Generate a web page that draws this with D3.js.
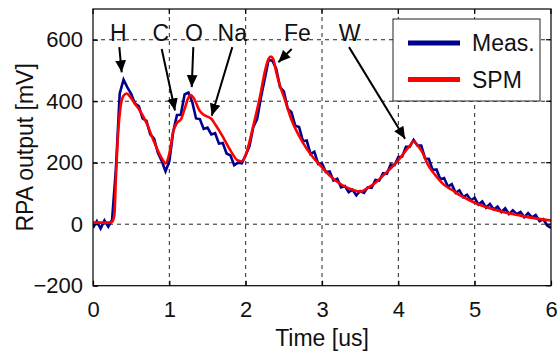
<!DOCTYPE html>
<html><head><meta charset="utf-8">
<script src="https://cdn.jsdelivr.net/npm/d3@7"></script>
<style>
body{margin:0;background:#fff;}
svg{display:block;font-family:"Liberation Sans",Arial,sans-serif;}
</style></head>
<body><svg id="c" width="558" height="356"></svg>
<script>
// ---- data ----
const xTicks = [0,1,2,3,4,5,6];
const yTicks = [-200,0,200,400,600];
const yTickLabels = ["\u2212200","0","200","400","600"];
const xLabel = "Time [us]";
const yLabel = "RPA output [mV]";
const seriesNames = ["Meas.","SPM"];

// Measured (blue), sampled every 0.05 us from 0 to 6
const measTime = d3.range(0, 121).map(i => +(i*0.05).toFixed(2));
const measValues = [
 -12,10,-14,12,-8,14,180,425,470,445,
 424,392,384,344,336,292,278,232,206,172,
 204,300,355,356,422,428,398,344,342,310,
 314,292,296,262,264,230,224,192,200,198,
 224,254,316,342,412,472,534,532,506,446,
 432,376,364,320,316,270,272,228,236,196,
 198,170,172,142,148,120,124,104,112,94,
 108,102,120,118,144,142,166,164,194,192,
 218,220,252,252,274,256,256,214,212,176,
 178,146,150,122,130,102,110,88,96,78,
 86,64,74,54,66,48,57,40,52,33,
 45,33,40,23,36,22,30,10,16,-4,
 -12
];

// Model (red)
const spmTime =   [0,0.1,0.2,0.25,0.28,0.3,0.33,0.36,0.4,0.44,0.5,0.55,0.6,0.7,0.8,0.9,0.95,1.0,1.05,1.1,1.15,1.2,1.25,1.28,1.32,1.4,1.45,1.5,1.55,1.6,1.7,1.8,1.9,1.95,2.0,2.1,2.2,2.25,2.3,2.33,2.36,2.4,2.45,2.5,2.6,2.7,2.8,2.9,3.0,3.1,3.2,3.3,3.4,3.5,3.6,3.7,3.8,3.9,4.0,4.1,4.16,4.2,4.24,4.3,4.4,4.5,4.6,4.7,4.8,4.9,5.0,5.2,5.4,5.6,5.8,6.0];
const spmValues = [5,5,5,8,30,150,300,380,418,425,410,391,375,330,268,215,198,230,300,330,340,375,412,420,410,368,356,350,343,325,285,240,207,205,225,320,430,495,538,545,538,495,450,415,340,287,245,212,185,158,138,122,112,106,118,135,158,182,208,240,258,270,260,240,188,155,128,112,95,82,70,52,38,28,19,12];

// annotations (label, text x, arrow start [x,y], arrow tip [x,y]) in data units
const annLabels = ["H","C","O","Na","Fe","W"];
const annTextX  = [0.33,0.887,1.323,1.825,2.677,3.363];
const annFrom   = [[0.345,576],[0.9,570],[1.314,576],[1.825,576],[2.603,570],[3.354,576]];
const annTip    = [[0.376,494],[1.074,370],[1.293,446],[1.555,353],[2.428,527],[4.088,278]];
const annTextY = 597;

// ---- drawing ----
const svg = d3.select("#c");
const L=93,R=551,T=9,B=285.7;
const x = d3.scaleLinear().domain([0,6]).range([L,R]);
const y = d3.scaleLinear().domain([-200,700]).range([B,T]);
const FS = 22;

// grid
const g = svg.append("g");
g.selectAll(".vg").data(xTicks.filter(d=>d>0&&d<6)).enter().append("line")
 .attr("x1",d=>x(d)).attr("x2",d=>x(d)).attr("y1",T).attr("y2",B)
 .attr("stroke","#222").attr("stroke-width",1).attr("stroke-dasharray","4,4");
g.selectAll(".hg").data(yTicks.filter(d=>d>-200)).enter().append("line")
 .attr("x1",L).attr("x2",R).attr("y1",d=>y(d)).attr("y2",d=>y(d))
 .attr("stroke","#222").attr("stroke-width",1).attr("stroke-dasharray","4,4");

// lines
const clip = svg.append("clipPath").attr("id","pc").append("rect")
 .attr("x",L).attr("y",T).attr("width",R-L).attr("height",B-T);
const meas = measTime.map((t,i)=>[t,measValues[i]]);
const spm = spmTime.map((t,i)=>[t,spmValues[i]]);
svg.append("path").datum(meas).attr("clip-path","url(#pc)")
 .attr("d",d3.line().x(d=>x(d[0])).y(d=>y(d[1])).curve(d3.curveLinear))
 .attr("fill","none").attr("stroke","#00008f").attr("stroke-width",2.6).attr("stroke-linejoin","miter");
svg.append("path").datum(spm).attr("clip-path","url(#pc)")
 .attr("d",d3.line().x(d=>x(d[0])).y(d=>y(d[1])).curve(d3.curveMonotoneX))
 .attr("fill","none").attr("stroke","#ff0000").attr("stroke-width",2.6).attr("stroke-linejoin","round");

// axes box
svg.append("rect").attr("x",L).attr("y",T).attr("width",R-L).attr("height",B-T)
 .attr("fill","none").attr("stroke","#000").attr("stroke-width",1.2);
const xb = d3.axisBottom(x).tickValues(xTicks).tickSize(-5).tickPadding(12).tickFormat(d3.format("d"));
const gx = svg.append("g").attr("transform",`translate(0,${B})`).call(xb);
const yl = d3.axisLeft(y).tickValues(yTicks).tickSize(-5).tickPadding(10).tickFormat((d,i)=>yTickLabels[i]);
const gy = svg.append("g").attr("transform",`translate(${L},0)`).call(yl);
[gx,gy].forEach(a=>{a.select(".domain").remove();
 a.selectAll("text").attr("font-size",FS).attr("font-family","Liberation Sans, Arial, sans-serif").attr("fill","#111");
 a.selectAll("line").attr("stroke","#000").attr("stroke-width",1.2);});
gx.selectAll("text").attr("dy","0.9em");
// mirror ticks
svg.append("g").selectAll("line").data(yTicks).enter().append("line")
 .attr("x1",R).attr("x2",R-5).attr("y1",d=>y(d)).attr("y2",d=>y(d)).attr("stroke","#000").attr("stroke-width",1.2);
svg.append("g").selectAll("line").data(xTicks).enter().append("line")
 .attr("x1",d=>x(d)).attr("x2",d=>x(d)).attr("y1",T).attr("y2",T+5).attr("stroke","#000").attr("stroke-width",1.2);

// axis labels
svg.append("text").attr("x",(L+R)/2).attr("y",346).attr("text-anchor","middle")
 .attr("font-size",FS+1).attr("fill","#111").text(xLabel);
svg.append("text").attr("transform",`translate(33,${(T+B)/2}) rotate(-90)`).attr("text-anchor","middle")
 .attr("font-size",FS+1).attr("fill","#111").text(yLabel);

// annotations
const defs = svg.append("defs");
defs.append("marker").attr("id","ah").attr("viewBox","0 0 10 10").attr("refX",10).attr("refY",5)
 .attr("markerWidth",6).attr("markerHeight",6).attr("markerUnits","strokeWidth").attr("orient","auto")
 .append("path").attr("d","M0,0.5 L10,5 L0,9.5 Z").attr("fill","#000");
annLabels.forEach((lab,i)=>{
 svg.append("text").attr("x",x(annTextX[i])).attr("y",y(annTextY)).attr("text-anchor","middle")
  .attr("font-size",FS+1).attr("fill","#111").text(lab);
 svg.append("line").attr("x1",x(annFrom[i][0])).attr("y1",y(annFrom[i][1]))
  .attr("x2",x(annTip[i][0])).attr("y2",y(annTip[i][1]))
  .attr("stroke","#000").attr("stroke-width",2).attr("marker-end","url(#ah)");
});

// legend
const lg = svg.append("g");
lg.append("rect").attr("x",393).attr("y",19).attr("width",147).attr("height",82)
 .attr("fill","#fff").attr("stroke","#222").attr("stroke-width",1);
const lcol = ["#00008f","#ff0000"];
seriesNames.forEach((n,i)=>{
 const yy = 43 + i*36.5;
 lg.append("line").attr("x1",408).attr("x2",460).attr("y1",yy).attr("y2",yy)
  .attr("stroke",lcol[i]).attr("stroke-width",5);
 lg.append("text").attr("x",472).attr("y",yy+8).attr("font-size",FS+1).attr("fill","#111").text(n);
});
</script></body></html>
